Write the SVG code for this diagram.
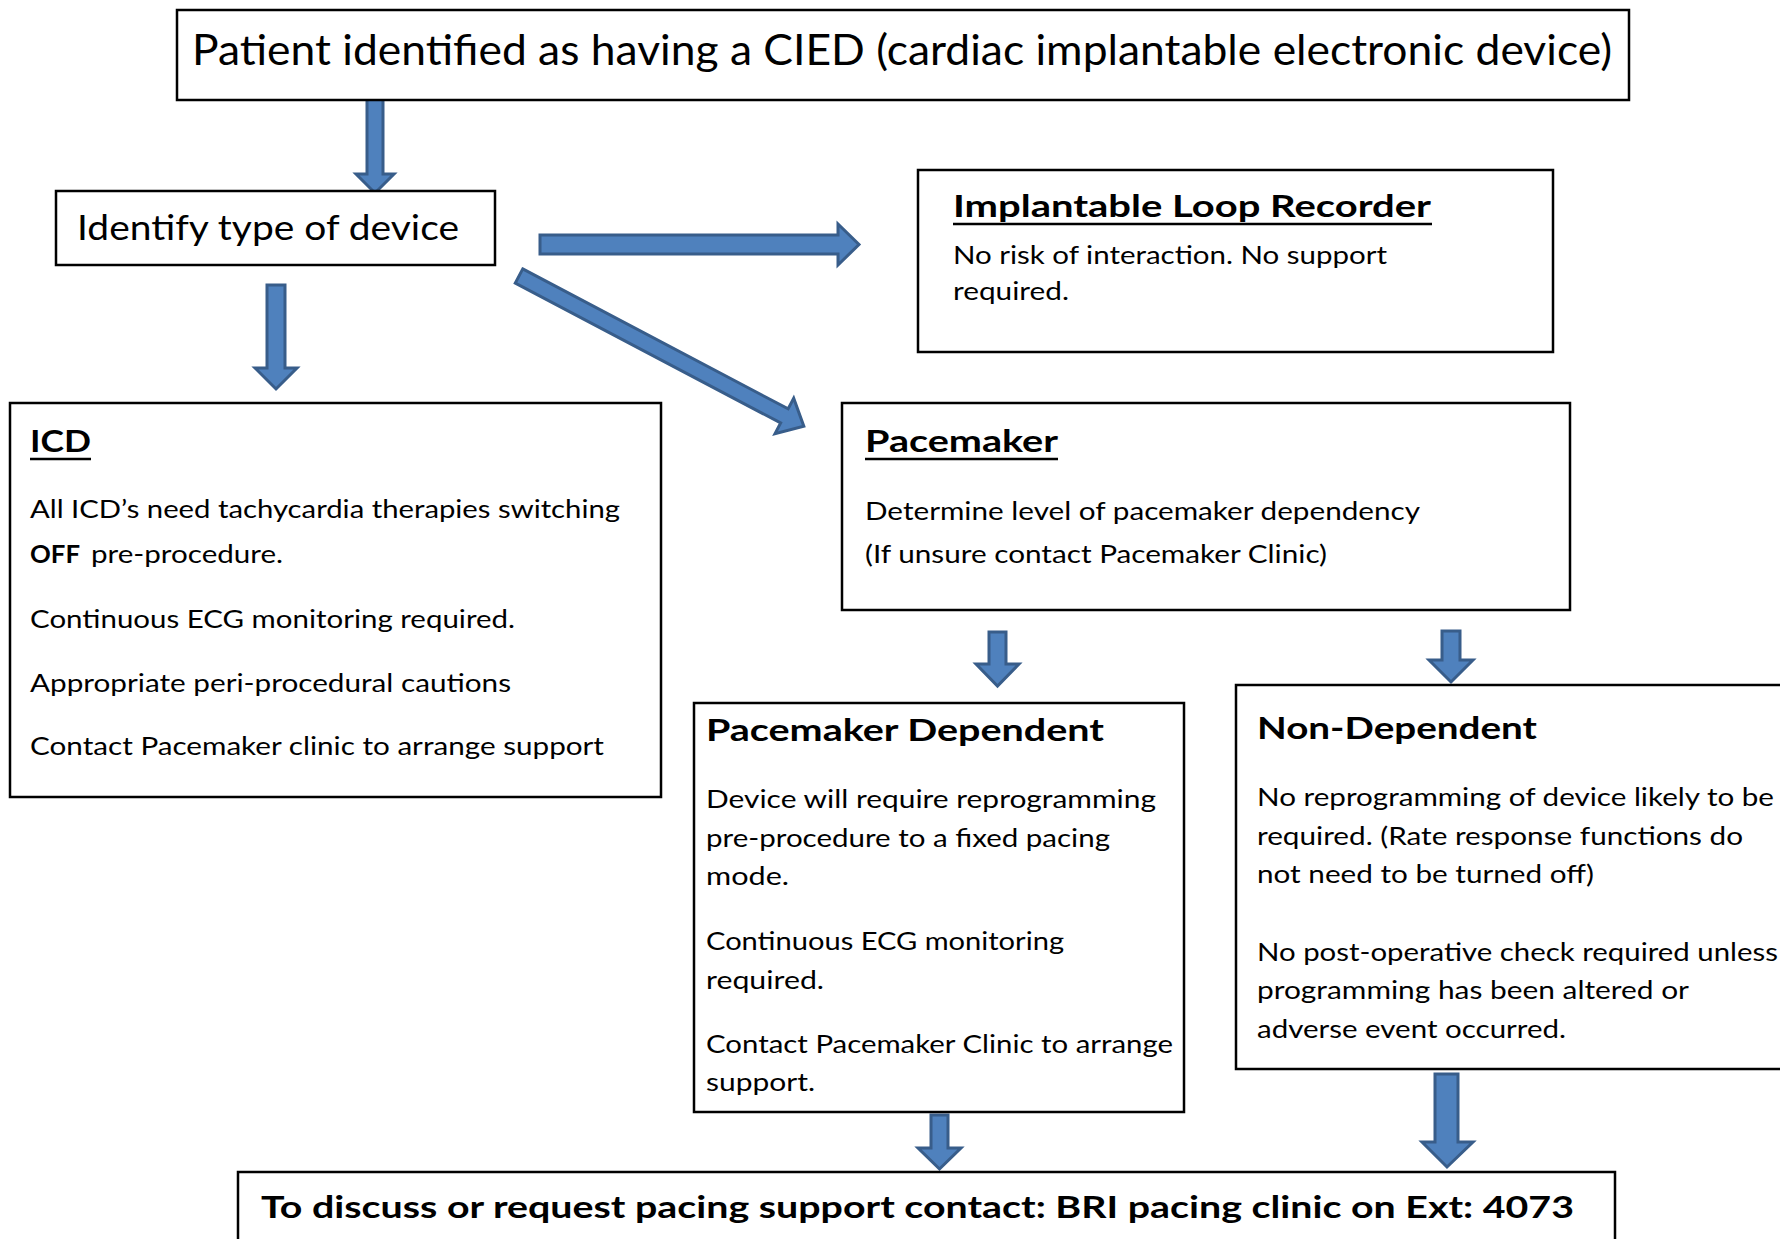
<svg xmlns="http://www.w3.org/2000/svg" width="1780" height="1239" viewBox="0 0 1780 1239">
<style>
.box{fill:#fff;stroke:#000;stroke-width:2.5}
.arr{fill:#4F81BD;stroke:#385D8A;stroke-width:3;stroke-linejoin:miter}
text{font-family:Lato,"Liberation Sans",sans-serif;fill:#000}
.big{font-size:42px}
.mid{font-size:35px}
.hd{font-size:31px;font-weight:bold}
.body{font-size:25px}
.b{font-weight:bold}
.ul{stroke:#000;stroke-width:2.5}
</style>
<rect width="1780" height="1239" fill="#fff"/>
<g id="connectors">
<polygon class="arr" points="367,99 383,99 383,174 394,174 375,193 356,174 367,174"/>
<polygon class="arr" points="267,285 285,285 285,368 297,368 276,389 255,368 267,368"/>
<polygon class="arr" points="540,235 838,235 838,224 859,244.5 838,265 838,254 540,254"/>
<g transform="translate(519,276) rotate(27.8)">
<polygon class="arr" points="0,-8 300,-8 300,-20 322,0 300,20 300,8 0,8"/>
</g>
<polygon class="arr" points="989,632 1006,632 1006,664 1019,664 997.5,686 976,664 989,664"/>
<polygon class="arr" points="1442,631 1460,631 1460,660 1473,660 1451,682 1429,660 1442,660"/>
<polygon class="arr" points="931,1115 948,1115 948,1148 961,1148 939.5,1169 918,1148 931,1148"/>
<polygon class="arr" points="1435,1074 1458,1074 1458,1142 1473,1142 1447,1167 1422,1142 1435,1142"/>
</g>
<g id="n-patient">
<rect class="box" x="177" y="10" width="1452" height="90"/>
<text class="big" x="192" y="65" textLength="1420" lengthAdjust="spacingAndGlyphs">Patient identified as having a CIED (cardiac implantable electronic device)</text>
</g>
<g id="n-identify">
<rect class="box" x="56" y="191" width="439" height="74"/>
<text class="mid" x="77" y="240" textLength="382" lengthAdjust="spacingAndGlyphs">Identify type of device</text>
</g>
<g id="n-ilr">
<rect class="box" x="918" y="170" width="635" height="182"/>
<text class="hd" x="953" y="217" textLength="478" lengthAdjust="spacingAndGlyphs">Implantable Loop Recorder</text>
<line class="ul" x1="953" y1="224" x2="1432" y2="224"/>
<text class="body" x="953" y="264" textLength="434" lengthAdjust="spacingAndGlyphs">No risk of interaction. No support</text>
<text class="body" x="953" y="300" textLength="116" lengthAdjust="spacingAndGlyphs">required.</text>
</g>
<g id="n-icd">
<rect class="box" x="10" y="403" width="651" height="394"/>
<text class="hd" x="30" y="452" textLength="61" lengthAdjust="spacingAndGlyphs">ICD</text>
<line class="ul" x1="30" y1="459" x2="91" y2="459"/>
<text class="body" x="30" y="518" textLength="590" lengthAdjust="spacingAndGlyphs">All ICD’s need tachycardia therapies switching</text>
<text class="body b" x="30" y="563" textLength="50" lengthAdjust="spacingAndGlyphs">OFF</text>
<text class="body" x="91" y="563" textLength="192" lengthAdjust="spacingAndGlyphs">pre-procedure.</text>
<text class="body" x="30" y="628" textLength="485" lengthAdjust="spacingAndGlyphs">Continuous ECG monitoring required.</text>
<text class="body" x="30" y="692" textLength="481" lengthAdjust="spacingAndGlyphs">Appropriate peri-procedural cautions</text>
<text class="body" x="30" y="755" textLength="574" lengthAdjust="spacingAndGlyphs">Contact Pacemaker clinic to arrange support</text>
</g>
<g id="n-pacemaker">
<rect class="box" x="842" y="403" width="728" height="207"/>
<text class="hd" x="865" y="452" textLength="193" lengthAdjust="spacingAndGlyphs">Pacemaker</text>
<line class="ul" x1="865" y1="459" x2="1058" y2="459"/>
<text class="body" x="865" y="520" textLength="555" lengthAdjust="spacingAndGlyphs">Determine level of pacemaker dependency</text>
<text class="body" x="865" y="563" textLength="462" lengthAdjust="spacingAndGlyphs">(If unsure contact Pacemaker Clinic)</text>
</g>
<g id="n-dependent">
<rect class="box" x="694" y="703" width="490" height="409"/>
<text class="hd" x="706" y="741" textLength="398" lengthAdjust="spacingAndGlyphs">Pacemaker Dependent</text>
<text class="body" x="706" y="808" textLength="450" lengthAdjust="spacingAndGlyphs">Device will require reprogramming</text>
<text class="body" x="706" y="847" textLength="404" lengthAdjust="spacingAndGlyphs">pre-procedure to a fixed pacing</text>
<text class="body" x="706" y="885" textLength="83" lengthAdjust="spacingAndGlyphs">mode.</text>
<text class="body" x="706" y="950" textLength="358" lengthAdjust="spacingAndGlyphs">Continuous ECG monitoring</text>
<text class="body" x="706" y="989" textLength="118" lengthAdjust="spacingAndGlyphs">required.</text>
<text class="body" x="706" y="1053" textLength="467" lengthAdjust="spacingAndGlyphs">Contact Pacemaker Clinic to arrange</text>
<text class="body" x="706" y="1091" textLength="109" lengthAdjust="spacingAndGlyphs">support.</text>
</g>
<g id="n-nondependent">
<rect class="box" x="1236" y="685" width="560" height="384"/>
<text class="hd" x="1257" y="739" textLength="280" lengthAdjust="spacingAndGlyphs">Non-Dependent</text>
<text class="body" x="1257" y="806" textLength="517" lengthAdjust="spacingAndGlyphs">No reprogramming of device likely to be</text>
<text class="body" x="1257" y="845" textLength="486" lengthAdjust="spacingAndGlyphs">required. (Rate response functions do</text>
<text class="body" x="1257" y="883" textLength="337" lengthAdjust="spacingAndGlyphs">not need to be turned off)</text>
<text class="body" x="1257" y="961" textLength="521" lengthAdjust="spacingAndGlyphs">No post-operative check required unless</text>
<text class="body" x="1257" y="999" textLength="432" lengthAdjust="spacingAndGlyphs">programming has been altered or</text>
<text class="body" x="1257" y="1038" textLength="309" lengthAdjust="spacingAndGlyphs">adverse event occurred.</text>
</g>
<g id="n-contact">
<rect class="box" x="238" y="1172" width="1377" height="80"/>
<text class="hd" x="261" y="1218" textLength="1313" lengthAdjust="spacingAndGlyphs">To discuss or request pacing support contact: BRI pacing clinic on Ext: 4073</text>
</g>
</svg>
